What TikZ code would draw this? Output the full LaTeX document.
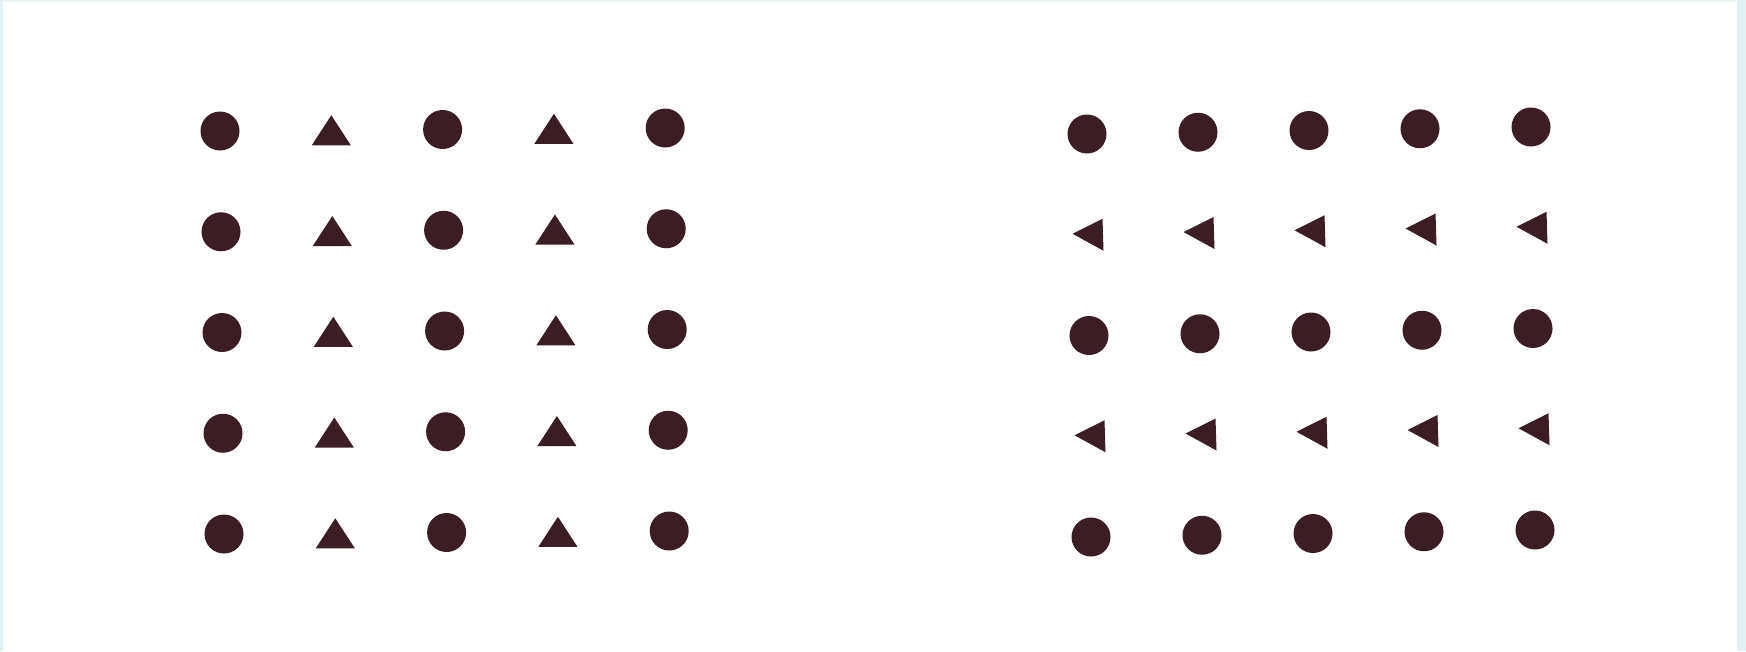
\documentclass[tikz,border=0pt]{standalone}
\begin{document}
\begin{tikzpicture}[x=0.01cm,y=-0.01cm]
\definecolor{dotc}{RGB}{58,30,36}
\definecolor{framec}{RGB}{226,241,243}
\definecolor{framet}{RGB}{238,245,248}
\tikzset{dot/.style={fill=dotc}}
% background and frame
\fill[framec] (0,0) rectangle (1746,651);
\fill[white] (3,2) rectangle (1737,651);
\fill[framet] (3,0) rectangle (1737,2);
\useasboundingbox (0,0) rectangle (1746,651);
% left grid: columns of circles and upward triangles
\foreach \r in {0,...,4}{
  \foreach \c in {0,2,4}{
    \pgfmathsetmacro{\px}{220+\c*111.3+\r*1}
    \pgfmathsetmacro{\py}{131+\r*100.75-\c*0.75}
    \fill[dot] (\px,\py) circle (19.5);
  }
  \foreach \c in {1,3}{
    \pgfmathsetmacro{\px}{220+\c*111.3+\r*1}
    \pgfmathsetmacro{\py}{131+\r*100.75-\c*0.75}
    \fill[dot] (\px-19.5,\py+15) -- (\px+19.5,\py+15) -- (\px,\py-15) -- cycle;
  }
}
% right grid: rows of circles and left-pointing triangles
\foreach \c in {0,...,4}{
  \foreach \r in {0,2,4}{
    \pgfmathsetmacro{\px}{1087+\c*111+\r*1}
    \pgfmathsetmacro{\py}{134+\r*100.75-\c*1.75}
    \fill[dot] (\px,\py) circle (19.5);
  }
  \foreach \r in {1,3}{
    \pgfmathsetmacro{\px}{1087+\c*111+\r*1}
    \pgfmathsetmacro{\py}{134+\r*100.75-\c*1.75}
    \fill[dot] (\px-15.5,\py-1) -- (\px+14.5,\py-16) -- (\px+15.5,\py+16) -- cycle;
  }
}
\end{tikzpicture}
\end{document}
